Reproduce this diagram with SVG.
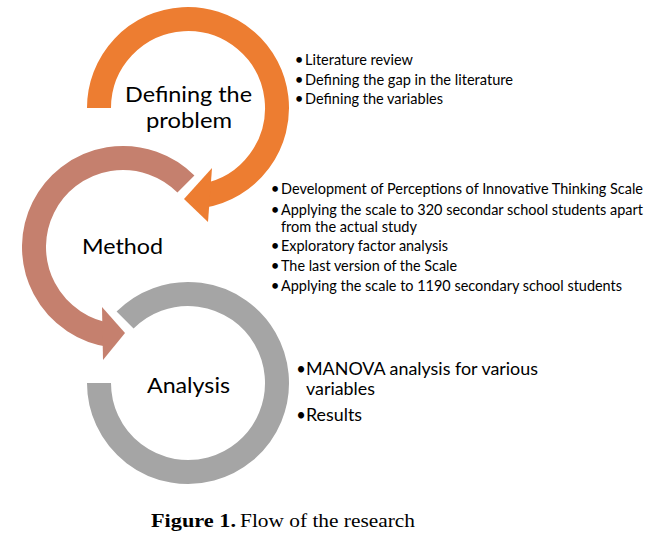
<svg xmlns="http://www.w3.org/2000/svg" width="670" height="542" viewBox="0 0 670 542">
  <style>
    .ring { fill: none; stroke-width: 24; stroke-linecap: butt; }
    .lbl { font-family: Lato, "Open Sans", "Liberation Sans", sans-serif; font-size: 21px; fill: #000; }
    .bl { font-family: Lato, "Open Sans", "Liberation Sans", sans-serif; font-size: 15px; fill: #000; }
    .bl2 { font-family: Lato, "Open Sans", "Liberation Sans", sans-serif; font-size: 16.5px; fill: #000; }
    .cap { font-family: "Liberation Serif", "Times New Roman", serif; font-size: 18.5px; fill: #000; }
  </style>
  <rect width="670" height="542" fill="#ffffff"/>

  <g id="node-defining">
    <path class="ring" stroke="#ED7D31" d="M 99 108 A 89 89 0 1 1 203.45 195.65"/>
    <polygon fill="#ED7D31" points="212,168 184,199 208,222"/>
    <text class="lbl" x="125" y="102" textLength="127" lengthAdjust="spacingAndGlyphs">Defining the</text>
    <text class="lbl" x="146" y="128" textLength="86" lengthAdjust="spacingAndGlyphs">problem</text>
  </g>

  <g id="node-method">
    <path class="ring" stroke="#C5806E" d="M 185.93 184.07 A 89 89 0 1 0 110.61 335.13"/>
    <polygon fill="#C5806E" points="102,307 125,333 103,360"/>
    <text class="lbl" x="82" y="254" textLength="81" lengthAdjust="spacingAndGlyphs">Method</text>
  </g>

  <g id="node-analysis">
    <path class="ring" stroke="#A5A5A5" d="M 125.07 320.07 A 89 89 0 1 1 99 383"/>
    <text class="lbl" x="147" y="393" textLength="83" lengthAdjust="spacingAndGlyphs">Analysis</text>
  </g>

  <g id="list-defining">
    <text class="bl" x="299" y="65" text-anchor="middle">•</text>
    <text class="bl" x="299" y="85" text-anchor="middle">•</text>
    <text class="bl" x="299" y="104" text-anchor="middle">•</text>
    <text class="bl" x="305" y="65" textLength="108" lengthAdjust="spacingAndGlyphs">Literature review</text>
    <text class="bl" x="305" y="85" textLength="208" lengthAdjust="spacingAndGlyphs">Defining the gap in the literature</text>
    <text class="bl" x="305" y="104" textLength="138" lengthAdjust="spacingAndGlyphs">Defining the variables</text>
  </g>

  <g id="list-method">
    <text class="bl" x="275" y="194" text-anchor="middle">•</text>
    <text class="bl" x="275" y="215" text-anchor="middle">•</text>
    <text class="bl" x="275" y="251" text-anchor="middle">•</text>
    <text class="bl" x="275" y="271" text-anchor="middle">•</text>
    <text class="bl" x="275" y="291" text-anchor="middle">•</text>
    <text class="bl" x="281" y="194" textLength="362" lengthAdjust="spacingAndGlyphs">Development of Perceptions of Innovative Thinking Scale</text>
    <text class="bl" x="281" y="215" textLength="362" lengthAdjust="spacingAndGlyphs">Applying the scale to 320 secondar school students apart</text>
    <text class="bl" x="281" y="232" textLength="136" lengthAdjust="spacingAndGlyphs">from the actual study</text>
    <text class="bl" x="281" y="251" textLength="167" lengthAdjust="spacingAndGlyphs">Exploratory factor analysis</text>
    <text class="bl" x="281" y="271" textLength="176" lengthAdjust="spacingAndGlyphs">The last version of the Scale</text>
    <text class="bl" x="281" y="291" textLength="341" lengthAdjust="spacingAndGlyphs">Applying the scale to 1190 secondary school students</text>
  </g>

  <g id="list-analysis">
    <text class="bl2" x="301" y="375" text-anchor="middle">•</text>
    <text class="bl2" x="301" y="421" text-anchor="middle">•</text>
    <text class="bl2" x="306" y="375" textLength="232" lengthAdjust="spacingAndGlyphs">MANOVA analysis for various</text>
    <text class="bl2" x="306" y="395" textLength="69" lengthAdjust="spacingAndGlyphs">variables</text>
    <text class="bl2" x="306" y="421" textLength="56" lengthAdjust="spacingAndGlyphs">Results</text>
  </g>

  <g id="caption">
    <text class="cap" x="151" y="527" font-weight="bold" textLength="85" lengthAdjust="spacingAndGlyphs">Figure 1.</text>
    <text class="cap" x="240" y="527" textLength="175" lengthAdjust="spacingAndGlyphs">Flow of the research</text>
  </g>
</svg>
